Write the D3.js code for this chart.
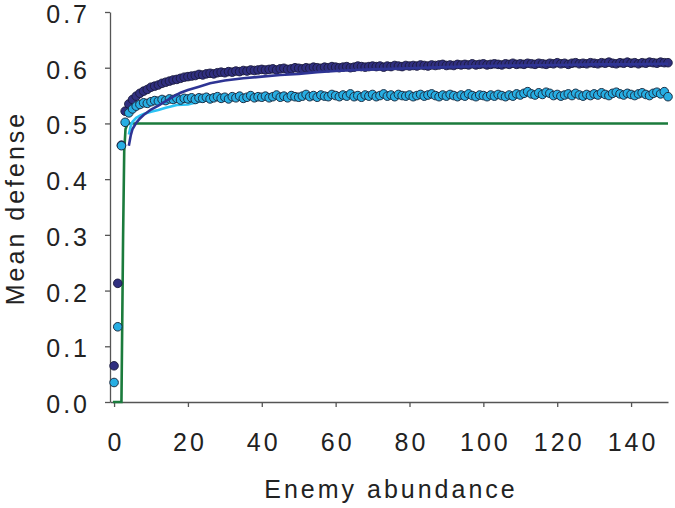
<!DOCTYPE html>
<html>
<head>
<meta charset="utf-8">
<script src="https://cdn.jsdelivr.net/npm/d3@7/dist/d3.min.js"></script>
<style>
    body { margin: 0; background: #fff; }
    text { font-family: "Liberation Sans", Arial, sans-serif; fill: #222; }
</style>
</head>
<body>
<div id="chart"></div>
<script>
//Tick labels of both axes.
var xTicks = [0, 20, 40, 60, 80, 100, 120, 140];
var yTicks = [0.0, 0.1, 0.2, 0.3, 0.4, 0.5, 0.6, 0.7];

//Mean defense at every enemy abundance 0..150 (dark dots).
var darkDots = [
    0.065, 0.213, 0.461, 0.522, 0.535, 0.543, 0.549, 0.554, 0.558, 0.561,
    0.565, 0.567, 0.569, 0.572, 0.574, 0.576, 0.578, 0.579, 0.581, 0.583,
    0.584, 0.585, 0.586, 0.588, 0.587, 0.589, 0.590, 0.589, 0.591, 0.592,
    0.591, 0.593, 0.592, 0.594, 0.593, 0.595, 0.594, 0.596, 0.595, 0.596,
    0.597, 0.596, 0.597, 0.598, 0.596, 0.598, 0.599, 0.597, 0.598, 0.600,
    0.599, 0.598, 0.600, 0.599, 0.601, 0.600, 0.599, 0.601, 0.600, 0.602,
    0.601, 0.600, 0.601, 0.602, 0.600, 0.601, 0.603, 0.602, 0.601, 0.602,
    0.603, 0.602, 0.603, 0.601, 0.603, 0.602, 0.604, 0.603, 0.602, 0.604,
    0.603, 0.604, 0.603, 0.605, 0.604, 0.603, 0.605, 0.604, 0.605, 0.606,
    0.604, 0.605, 0.604, 0.606, 0.605, 0.606, 0.605, 0.607, 0.605, 0.606,
    0.607, 0.605, 0.606, 0.607, 0.606, 0.605, 0.607, 0.606, 0.608, 0.606,
    0.607, 0.606, 0.608, 0.607, 0.606, 0.608, 0.607, 0.606, 0.608, 0.607,
    0.609, 0.607, 0.608, 0.606, 0.608, 0.609, 0.607, 0.608, 0.607, 0.609,
    0.608, 0.607, 0.609, 0.608, 0.610, 0.608, 0.607, 0.609, 0.608, 0.610,
    0.608, 0.609, 0.607, 0.609, 0.608, 0.610, 0.609, 0.608, 0.610, 0.609,
    0.609
];

//Mean defense at every enemy abundance 0..150 (light dots).
var lightDots = [
    0.035, 0.135, 0.460, 0.502, 0.519, 0.526, 0.531, 0.534, 0.537, 0.536,
    0.539, 0.541, 0.540, 0.543, 0.541, 0.544, 0.543, 0.545, 0.542, 0.545,
    0.544, 0.546, 0.543, 0.546, 0.545, 0.547, 0.544, 0.546, 0.548, 0.545,
    0.547, 0.544, 0.548, 0.546, 0.549, 0.545, 0.547, 0.550, 0.546, 0.548,
    0.547, 0.549, 0.546, 0.548, 0.551, 0.547, 0.549, 0.546, 0.550, 0.548,
    0.547, 0.549, 0.552, 0.548, 0.550, 0.547, 0.551, 0.549, 0.548, 0.552,
    0.550, 0.548, 0.551, 0.549, 0.553, 0.548, 0.550, 0.547, 0.551, 0.549,
    0.552, 0.548, 0.550, 0.553, 0.549, 0.551, 0.548, 0.552, 0.550, 0.549,
    0.551, 0.548, 0.550, 0.552, 0.549, 0.551, 0.553, 0.550, 0.548, 0.551,
    0.549, 0.552, 0.550, 0.548, 0.551, 0.549, 0.553, 0.550, 0.548, 0.551,
    0.550, 0.548, 0.551, 0.549, 0.552, 0.550, 0.548, 0.551, 0.549, 0.553,
    0.551, 0.554, 0.557, 0.553, 0.551, 0.555, 0.552, 0.556, 0.554, 0.550,
    0.552, 0.549, 0.551, 0.553, 0.550, 0.554, 0.551, 0.549, 0.552, 0.550,
    0.553, 0.551, 0.555, 0.552, 0.550, 0.554, 0.556, 0.553, 0.551, 0.554,
    0.552, 0.550, 0.553, 0.555, 0.552, 0.550, 0.554, 0.556, 0.553, 0.557,
    0.548
];

//Dark blue curve.
var darkLineX = [4, 4.5, 5, 6, 7, 8, 9, 10, 12, 14, 16, 18, 20, 23, 26, 30, 35, 40, 45, 50, 55, 60, 65, 70, 80, 90, 100, 110, 120, 130, 140, 150];
var darkLineY = [0.460, 0.478, 0.490, 0.501, 0.509, 0.515, 0.520, 0.525, 0.532, 0.540, 0.548, 0.555, 0.560, 0.566, 0.572, 0.577, 0.581, 0.584, 0.587, 0.589, 0.592, 0.594, 0.596, 0.597, 0.599, 0.601, 0.603, 0.604, 0.605, 0.606, 0.606, 0.607];

//Light blue curve.
var lightLineX = [4, 4.5, 5, 6, 7, 8, 10, 12, 14, 17, 20, 23, 26, 30, 35, 40, 45, 50, 60, 70, 80, 90, 100, 110, 120, 130, 140, 150];
var lightLineY = [0.480, 0.495, 0.503, 0.510, 0.514, 0.517, 0.521, 0.524, 0.528, 0.533, 0.534, 0.539, 0.542, 0.543, 0.545, 0.546, 0.547, 0.548, 0.549, 0.550, 0.550, 0.551, 0.551, 0.551, 0.552, 0.552, 0.552, 0.553];

//Green threshold curve.
var greenX = [-0.3, 2.0, 2.45, 2.75, 3.1, 3.7, 150];
var greenY = [0, 0, 0.30, 0.45, 0.49, 0.5, 0.5];


//Size of the SVG-object.
var width = 675, height = 508;

var svg = d3.select('#chart').append('svg')
    .attr('width', width)
    .attr('height', height);

//Scales: plot runs from x=110 to 668, y=12 to 402.
var x = d3.scaleLinear().domain([-1.1, 150]).range([110, 668]);
var y = d3.scaleLinear().domain([0, 0.7]).range([402, 12]);

//Axes.
var xAxis = svg.append("g")
    .attr("transform", "translate(0,402)")
    .call(d3.axisBottom(x).tickValues(xTicks).tickSize(5).tickSizeOuter(0).tickFormat(d3.format("d")));

xAxis.selectAll("text")
    .attr("y", 49)
    .attr("dy", 0)
    .style("font-size", "25px")
    .style("letter-spacing", "3px")
    .attr("dx", "1.5px");

var yAxis = svg.append("g")
    .attr("transform", "translate(110,0)")
    .call(d3.axisLeft(y).tickValues(yTicks).tickSize(5).tickSizeOuter(0).tickPadding(15).tickFormat(d3.format(".1f")));

yAxis.selectAll("text")
    .attr("dy", "0.42em")
    .style("font-size", "25px")
    .style("letter-spacing", "3px");

svg.selectAll(".domain, .tick line")
    .attr("stroke", "#555")
    .attr("stroke-width", 1.3);

//Axis titles.
svg.append("text")
    .attr("x", 391)
    .attr("y", 498)
    .attr("text-anchor", "middle")
    .style("font-size", "25px")
    .style("letter-spacing", "3px")
    .text("Enemy abundance");

svg.append("text")
    .attr("transform", "translate(24,208) rotate(-90)")
    .attr("text-anchor", "middle")
    .style("font-size", "25px")
    .style("letter-spacing", "3px")
    .text("Mean defense");


//Line generator for the curves.
var line = d3.line()
    .x(function(d) { return x(d[0]); })
    .y(function(d) { return y(d[1]); });

function pairs(xs, ys) {
    return xs.map(function(v, i) { return [v, ys[i]]; });
}

svg.append("path")
    .datum(pairs(greenX, greenY))
    .attr("d", line)
    .attr("fill", "none")
    .attr("stroke", "#1b7b3c")
    .attr("stroke-width", 2.6);

svg.append("path")
    .datum(pairs(lightLineX, lightLineY))
    .attr("d", line)
    .attr("fill", "none")
    .attr("stroke", "#2cc3f4")
    .attr("stroke-width", 2.6);

//Dots, one per abundance value.
svg.append("g").selectAll("circle")
    .data(darkDots)
    .enter().append("circle")
    .attr("cx", function(d, i) { return x(i); })
    .attr("cy", function(d) { return y(d); })
    .attr("r", 4.3)
    .attr("fill", "#302f80")
    .attr("stroke", "#1a1a3c")
    .attr("stroke-width", 0.9);

svg.append("g").selectAll("circle")
    .data(lightDots)
    .enter().append("circle")
    .attr("cx", function(d, i) { return x(i); })
    .attr("cy", function(d) { return y(d); })
    .attr("r", 4.3)
    .attr("fill", "#27aee3")
    .attr("stroke", "#1d2f45")
    .attr("stroke-width", 1);

svg.append("path")
    .datum(pairs(darkLineX, darkLineY))
    .attr("d", line)
    .attr("fill", "none")
    .attr("stroke", "#2e3494")
    .attr("stroke-width", 2.6);
</script>
</body>
</html>
